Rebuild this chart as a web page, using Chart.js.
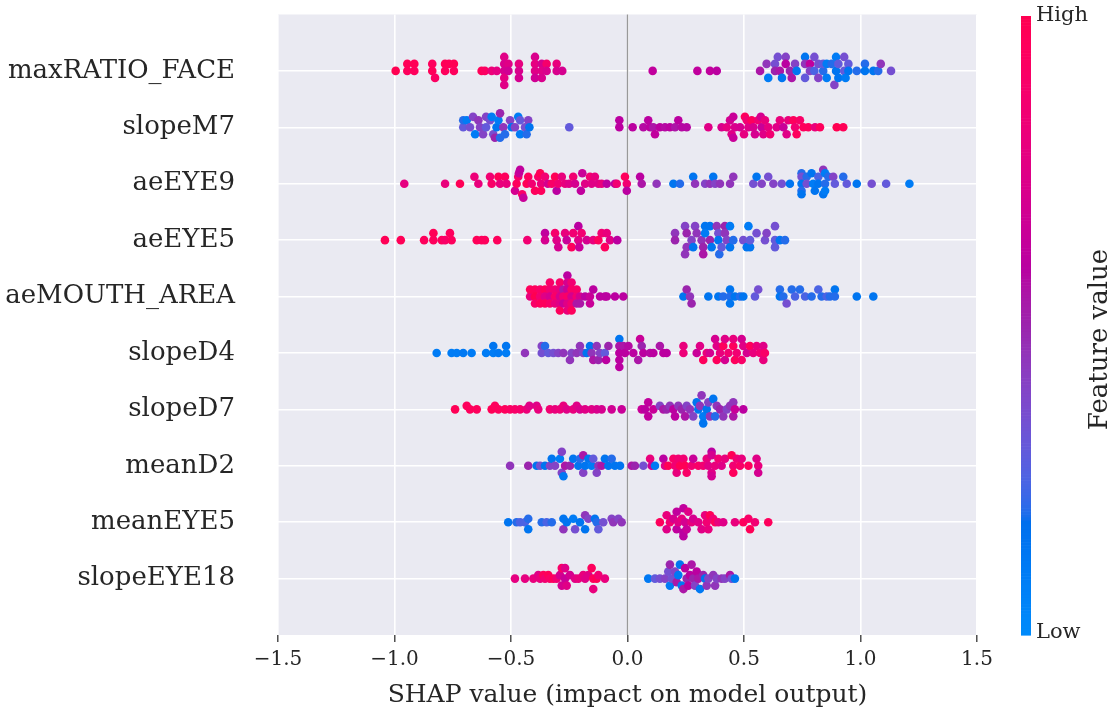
<!DOCTYPE html>
<html><head><meta charset="utf-8">
<script src="https://cdn.jsdelivr.net/npm/chart.js@4.4.1/dist/chart.umd.min.js"></script>
<style>html,body{margin:0;padding:0;background:#fff}canvas{display:block}</style>
</head><body>
<canvas id="c" width="1114" height="715"></canvas>
<script>
const features = ["maxRATIO_FACE","slopeM7","aeEYE9","aeEYE5","aeMOUTH_AREA","slopeD4","slopeD7","meanD2","meanEYE5","slopeEYE18"];
const xTicks = [-1.5,-1.0,-0.5,0.0,0.5,1.0,1.5];
const xTitle = "SHAP value (impact on model output)";
const cbarLabels = {high:"High", low:"Low", title:"Feature value"};

// each point: [SHAP value, beeswarm lane, feature value (0 = low, 1 = high)]
const maxRATIO_FACE = [
[-0.995,0,1],[-0.945,1,0.97],[-0.945,0,0.95],[-0.915,1,0.98],[-0.915,0,0.95],
[-0.838,1,0.95],[-0.838,0,0.97],[-0.826,-1,0.93],[-0.783,1,0.98],[-0.783,0,0.95],[-0.766,1,0.97],[-0.745,1,0.99],[-0.745,0,0.95],
[-0.626,0,0.97],[-0.612,0,0.93],[-0.583,0,0.82],[-0.561,0,0.78],
[-0.529,2,0.75],[-0.529,1,0.72],[-0.529,0,0.7],[-0.529,-1,0.78],[-0.529,-2,0.75],[-0.511,1,0.75],[-0.511,0,0.68],
[-0.466,1,0.78],[-0.466,0,0.72],[-0.466,-1,0.7],[-0.397,2,0.72],[-0.397,1,0.78],[-0.397,0,0.75],[-0.397,-1,0.68],
[-0.368,1,0.7],[-0.368,0,0.75],[-0.368,-1,0.72],[-0.347,1,0.88],[-0.347,0,0.72],[-0.304,1,0.8],[-0.304,0,0.72],[-0.28,0,0.7],
[0.108,0,0.62],[0.300,0,0.62],[0.354,0,0.62],[0.383,0,0.6],
[0.569,0,0.55],[0.597,1,0.45],[0.604,-1,0.1],[0.633,1,0.35],[0.633,0,0.5],[0.645,2,0.35],[0.654,0,0.55],[0.663,-1,0.15],
[0.679,2,0.4],[0.679,1,0.6],[0.697,0,0.5],[0.705,-1,0.55],[0.719,1,0.4],[0.726,0,0.15],[0.762,2,0.15],[0.762,1,0.45],[0.762,-1,0.3],
[0.783,1,0.62],[0.783,0,0.4],[0.802,2,0.35],[0.802,0,0.25],[0.819,1,0.35],[0.819,-1,0.4],[0.840,0,0.2],[0.840,1,0.3],
[0.855,1,0.1],[0.855,-1,0.1],[0.876,1,0.2],[0.895,2,0.1],[0.895,0,0.15],[0.888,-2,0.4],[0.905,-1,0.15],[0.905,1,0.3],
[0.930,2,0.35],[0.930,0,0.3],[0.936,-1,0.1],[0.948,1,0.3],[0.948,0,0.15],[0.984,0,0.2],[1.019,1,0.2],[1.019,0,0.15],
[1.055,0,0.15],[1.076,0,0.2],[1.087,1,0.45],[1.131,0,0.35]];

const slopeM7 = [
[-0.705,0,0.3],[-0.705,1,0.2],[-0.690,1,0.1],[-0.676,0,0.35],[-0.663,1.5,0.4],[-0.654,-1,0.1],
[-0.640,1,0.45],[-0.633,0,0.4],[-0.620,-1,0.4],[-0.607,1.5,0.4],[-0.607,0,0.3],
[-0.590,1,0.35],[-0.583,1.5,0.1],[-0.576,-1,0.35],[-0.569,-1.5,0.5],[-0.562,0,0.15],[-0.554,1,0.1],[-0.547,2,0.5],[-0.547,-1.5,0.2],
[-0.533,0,0.45],[-0.526,-1,0.2],[-0.504,1,0.4],[-0.497,0,0.15],[-0.483,0,0.4],[-0.469,1.5,0.1],[-0.461,1,0.3],[-0.461,-1,0.1],
[-0.440,0,0.35],[-0.433,-1,0.2],[-0.426,1,0.4],[-0.421,0,0.15],[-0.250,0,0.3],
[-0.035,1,0.6],[-0.035,0,0.6],[0.022,0,0.6],
[0.068,0,0.58],[0.089,1,0.6],[0.097,0,0.6],[0.111,0,0.55],[0.118,-1,0.62],[0.139,0,0.6],[0.161,0,0.58],[0.182,0,0.6],[0.204,0,0.55],[0.218,1,0.6],[0.233,0,0.58],[0.254,0,0.58],
[0.347,0,0.75],
[0.404,0,0.72],[0.426,0,0.78],[0.440,1,0.7],[0.447,-1,0.75],[0.454,1.5,0.65],[0.454,-1.5,0.65],[0.461,0,0.72],
[0.483,0,0.7],[0.500,-1,0.78],[0.504,1.5,0.95],[0.512,1,0.85],[0.519,0,0.75],
[0.533,1,0.95],[0.540,0,0.72],[0.547,-1,0.7],[0.561,1,0.85],[0.572,1.5,0.7],[0.576,0,0.65],[0.583,-1,0.75],[0.590,1,0.8],[0.604,0,0.78],[0.612,-1,0.85],
[0.640,0,0.75],[0.654,1,0.8],[0.669,0,0.65],[0.683,-1,0.75],[0.690,1,0.8],[0.712,1,0.95],[0.719,0,0.85],[0.726,-1,0.95],[0.740,1,0.9],[0.755,0,0.95],
[0.776,0,0.95],[0.805,0,0.8],[0.826,0,0.95],[0.898,0,1],[0.926,0,0.98]];

const aeEYE9 = [
[-0.958,0,0.78],[-0.783,0,0.8],[-0.719,0,0.98],[-0.657,1,0.82],[-0.640,0,0.8],
[-0.590,1,0.85],[-0.583,0,0.9],[-0.554,1,0.98],[-0.547,0,0.8],[-0.526,1,0.95],[-0.519,0,0.8],
[-0.483,-1,0.7],[-0.476,0,0.95],[-0.469,1,0.9],[-0.466,1.5,0.65],[-0.461,2,0.62],[-0.452,-1.5,0.9],[-0.447,-2,0.65],[-0.433,0,0.98],[-0.426,1,0.95],
[-0.411,0,0.85],[-0.397,-1,0.95],[-0.383,1,0.9],[-0.375,1.5,0.98],[-0.371,0,0.8],[-0.371,-1,0.95],[-0.354,1,0.85],[-0.342,0,0.7],
[-0.325,0,0.9],[-0.311,1,0.98],[-0.304,-1,0.6],[-0.297,0,0.85],[-0.282,1,0.8],[-0.268,0,0.8],[-0.251,0,0.75],[-0.233,1,0.85],[-0.225,0,0.7],
[-0.200,-1,0.62],[-0.194,1.5,0.65],[-0.182,0,0.75],[-0.161,1,0.85],[-0.154,0,0.75],[-0.140,1,0.8],[-0.125,0,0.75],[-0.111,0,0.8],
[-0.089,0,0.6],[-0.054,0,0.6],[-0.046,0,0.85],[-0.011,1,0.95],[-0.003,0,0.85],[-0.003,-1,0.6],
[0.054,1,0.6],[0.061,0,0.55],[0.125,0,0.45],[0.197,0,0.15],[0.225,0,0.2],
[0.282,1,0.15],[0.290,0,0.45],[0.333,0,0.4],[0.354,0,0.45],[0.368,1,0.15],[0.376,0,0.4],[0.397,0,0.45],[0.440,0,0.45],[0.454,1,0.45],
[0.540,0,0.35],[0.554,1,0.15],[0.576,0,0.4],[0.604,1,0.35],[0.626,0,0.4],[0.662,0,0.35],[0.697,0,0.15],
[0.747,1.5,0.2],[0.747,1,0.35],[0.747,0,0.15],[0.747,-1,0.2],[0.747,-1.5,0.15],[0.769,1,0.2],[0.769,0,0.35],[0.790,1.5,0.15],[0.797,0,0.1],[0.804,-1,0.15],
[0.819,1,0.25],[0.819,0,0.15],[0.840,2,0.45],[0.840,-1.5,0.15],[0.848,1.5,0.1],[0.848,0,0.2],[0.848,-1,0.1],[0.862,1,0.2],[0.883,1,0.4],[0.890,0,0.3],
[0.926,1,0.2],[0.941,0,0.3],[0.984,0,0.15],[1.048,0,0.35],[1.110,0,0.3],[1.210,0,0.1]];

const aeEYE5 = [
[-1.041,0,0.98],[-0.973,0,0.98],[-0.873,0,0.95],[-0.833,1,0.98],[-0.833,0,0.95],[-0.797,0,0.95],[-0.783,0,0.9],[-0.762,1,0.95],[-0.755,0,0.95],
[-0.647,0,0.97],[-0.626,0,0.95],[-0.612,0,0.95],[-0.559,0,0.95],[-0.430,0,0.85],
[-0.354,1,0.62],[-0.354,0,0.7],[-0.311,1,0.88],[-0.304,0,0.75],[-0.297,-1,0.7],[-0.268,1,0.8],[-0.261,0,0.65],[-0.240,-1,0.95],[-0.233,1,0.85],
[-0.211,2,0.6],[-0.211,0,0.75],[-0.207,-1,0.65],[-0.197,1,0.85],[-0.175,0,0.7],[-0.147,0,0.8],[-0.125,0,0.95],[-0.111,1,0.85],[-0.097,-1,0.95],
[-0.089,1,0.8],[-0.075,0,0.75],[-0.044,0,0.6],
[0.204,1,0.45],[0.204,0,0.5],[0.247,-2,0.45],[0.247,2,0.4],[0.254,1,0.5],[0.254,-1,0.45],[0.275,0,0.4],[0.282,-1,0.15],[0.290,2,0.4],[0.297,1,0.45],
[0.318,0,0.45],[0.325,-1,0.5],[0.325,-2,0.55],[0.333,2,0.15],[0.333,1,0.1],[0.354,2,0.15],[0.354,0,0.5],[0.361,-1,0.15],[0.383,2,0.45],[0.390,1,0.35],
[0.390,0,0.15],[0.394,-2,0.2],[0.404,-1,0.3],[0.418,2,0.5],[0.418,1,0.45],[0.426,0,0.4],[0.440,2,0.1],[0.440,-1,0.15],[0.454,0,0.2],[0.497,0,0.35],
[0.512,-1,0.15],[0.519,2,0.1],[0.526,-1,0.15],[0.526,0,0.3],[0.554,1,0.35],[0.590,0,0.35],[0.597,1,0.4],[0.633,2,0.35],[0.633,0,0.3],[0.633,-1,0.3],
[0.654,0,0.15],[0.676,0,0.2]];

const aeMOUTH_AREA = [
[-0.418,0,0.8],[-0.418,1,0.95],[-0.397,1,0.95],[-0.397,0,1],[-0.397,-1,0.9],[-0.375,1,0.9],[-0.375,0,0.85],[-0.375,-1,0.95],
[-0.354,1,0.95],[-0.354,0,0.75],[-0.354,-1,0.95],[-0.333,2,0.9],[-0.333,1,0.85],[-0.333,0,0.7],[-0.333,-1,0.9],
[-0.311,1,0.85],[-0.311,0,0.9],[-0.311,-1,0.8],[-0.290,2,0.9],[-0.290,1,0.8],[-0.290,0,0.7],[-0.290,-1,0.75],[-0.290,-2,0.95],
[-0.275,1,0.55],[-0.275,0,0.85],[-0.275,-1,0.65],[-0.258,3,0.6],[-0.258,2,0.7],[-0.258,1,0.65],[-0.258,0,0.9],[-0.258,-1,0.75],[-0.258,-2,0.8],
[-0.240,2,0.85],[-0.240,1,0.9],[-0.240,0,0.7],[-0.240,-1,0.85],[-0.240,-2,0.95],[-0.218,1,0.9],[-0.218,0,0.85],[-0.218,-1,0.55],
[-0.204,0,0.7],[-0.204,-1,0.55],[-0.182,0,0.6],[-0.161,0,0.65],[-0.161,-1,0.65],[-0.147,1,0.6],
[-0.118,0,0.6],[-0.097,0,0.6],[-0.089,0,0.6],[-0.054,0,0.6],[-0.018,0,0.6],
[0.240,0,0.15],[0.254,1,0.5],[0.268,0,0.45],[0.275,-1,0.5],
[0.347,0,0.15],[0.390,0,0.15],[0.411,0,0.2],[0.440,1,0.15],[0.440,0,0.2],[0.440,-1,0.15],[0.461,0,0.15],[0.483,0,0.2],[0.497,0,0.15],
[0.547,0,0.3],[0.561,1,0.35],
[0.654,1,0.2],[0.654,0,0.15],[0.669,0,0.2],[0.683,-1,0.35],[0.705,1,0.2],[0.719,0,0.25],[0.740,1,0.2],[0.762,0,0.25],[0.790,0,0.2],
[0.819,1,0.25],[0.833,0,0.2],[0.855,0,0.25],[0.869,0,0.2],[0.890,1,0.15],[0.890,0,0.2],[0.984,0,0.15],[1.055,0,0.15]];

const slopeD4 = [
[-0.819,0,0.1],[-0.755,0,0.1],[-0.733,0,0.1],[-0.705,0,0.12],[-0.669,0,0.1],
[-0.607,0,0.1],[-0.576,1,0.15],[-0.576,0,0.1],[-0.554,0,0.12],[-0.521,1,0.15],[-0.521,0,0.1],[-0.440,0,0.45],
[-0.368,1,0.4],[-0.368,0,0.35],[-0.354,1,0.2],[-0.340,0,0.3],[-0.318,0,0.35],[-0.297,0,0.4],[-0.275,0,0.45],[-0.247,-1,0.45],[-0.240,0,0.4],
[-0.218,0,0.45],[-0.204,1,0.45],[-0.190,0,0.4],[-0.175,0,0.15],[-0.161,1,0.15],[-0.154,0,0.45],[-0.147,-1,0.55],[-0.132,1,0.45],[-0.125,-1,0.5],
[-0.118,0,0.4],[-0.097,0,0.3],[-0.092,-1,0.6],[-0.082,1,0.5],
[-0.035,2,0.15],[-0.035,1,0.55],[-0.035,0,0.6],[-0.035,-1,0.6],[-0.035,-2,0.6],
[-0.018,1,0.55],[-0.011,0,0.6],[0.004,1,0.58],[0.025,0,0.6],[0.046,-1,0.55],[0.054,2,0.65],[0.061,1,0.5],[0.068,0,0.6],[0.097,0,0.58],[0.111,0,0.6],
[0.139,1,0.55],[0.154,0,0.6],[0.168,0,0.6],
[0.240,1,0.8],[0.240,0,0.82],
[0.297,0,0.65],[0.311,1,0.75],[0.325,-1,0.95],[0.340,0,0.8],[0.354,0,0.7],[0.376,2,0.7],[0.383,1,0.75],[0.383,-1,0.95],[0.397,0,0.8],[0.411,1,0.95],
[0.418,2,0.75],[0.418,-1,0.7],[0.433,0,0.85],[0.454,1,0.95],[0.454,2,0.8],[0.461,-1,0.95],[0.469,0,0.85],[0.490,2,0.7],[0.490,-1,0.9],[0.497,1,0.75],
[0.512,0,0.7],[0.526,1,0.95],[0.540,0,0.8],[0.554,1,0.8],[0.569,0,0.85],[0.583,1,0.75],[0.583,-1,0.8],[0.590,0,0.9]];

const slopeD7 = [
[-0.740,0,0.98],[-0.690,0.5,0.95],[-0.676,0,0.95],[-0.647,0,0.95],
[-0.583,0,0.98],[-0.569,0.5,0.95],[-0.554,0,0.95],[-0.526,0,0.95],[-0.504,0,0.92],[-0.483,0,0.9],[-0.461,0,0.88],[-0.433,0,0.82],[-0.421,0.5,0.75],[-0.390,0.5,0.75],[-0.383,0,0.8],
[-0.333,0,0.85],[-0.311,0,0.8],[-0.290,0,0.82],[-0.275,0.5,0.8],[-0.261,0,0.75],[-0.233,0,0.8],[-0.218,0.5,0.75],[-0.204,0,0.72],[-0.182,0,0.75],[-0.154,0,0.75],[-0.132,0,0.72],[-0.111,0,0.7],
[-0.068,0,0.68],[-0.025,0,0.65],
[0.061,0,0.65],[0.075,0,0.6],[0.089,1,0.62],[0.089,-1,0.62],[0.111,0,0.65],[0.139,0.5,0.4],[0.154,0,0.55],[0.168,0,0.5],[0.182,0.5,0.45],[0.197,0,0.6],[0.204,-1,0.6],
[0.218,0.5,0.45],[0.233,0,0.5],[0.247,-1,0.55],[0.254,0.5,0.4],[0.268,0,0.45],[0.282,-1,0.4],[0.297,1,0.15],[0.304,0,0.15],[0.311,0.5,0.45],[0.318,2,0.45],
[0.325,-1,0.1],[0.325,-2,0.15],[0.340,0,0.15],[0.347,1,0.4],[0.354,-1,0.45],[0.368,1.5,0.15],[0.376,-1,0.2],[0.383,0.5,0.45],[0.397,0,0.5],[0.411,-1,0.45],
[0.426,0,0.4],[0.440,0.5,0.45],[0.454,1,0.45],[0.454,-1,0.55],[0.461,0,0.65],[0.497,0,0.6]];

const meanD2 = [
[-0.504,0,0.45],
[-0.426,0,0.5],[-0.390,0,0.15],[-0.375,0,0.35],[-0.354,0,0.15],[-0.333,0,0.4],[-0.325,1,0.15],[-0.311,0,0.4],[-0.290,1,0.1],[-0.282,2,0.4],[-0.282,-1,0.4],
[-0.275,-1.5,0.12],[-0.268,0,0.55],[-0.247,0,0.5],[-0.233,1,0.15],[-0.211,0,0.15],[-0.204,1,0.2],[-0.190,1.5,0.55],[-0.190,-1,0.4],[-0.182,0,0.15],
[-0.168,1,0.15],[-0.154,0,0.1],[-0.147,1,0.3],[-0.132,-1,0.4],[-0.125,0,0.45],[-0.111,0,0.55],[-0.097,1,0.15],[-0.082,0,0.15],[-0.068,1,0.2],[-0.054,0,0.15],[-0.032,0,0.15],
[0.018,0,0.55],[0.032,0,0.5],[0.068,0,0.35],[0.097,1,0.8],[0.104,0,0.65],[0.118,0,0.12],[0.154,1,0.6],[0.161,0,0.75],[0.175,0,0.98],[0.197,1,0.9],
[0.204,0,0.85],[0.211,-1,0.8],[0.218,1,0.85],[0.225,0,0.98],[0.240,1,0.85],[0.247,0,0.98],[0.254,-1,0.9],[0.275,0,0.85],[0.282,1,0.65],[0.304,0,0.9],
[0.325,0,0.85],[0.340,1,0.8],[0.347,0,0.75],[0.361,2,0.6],[0.361,1.5,0.7],[0.361,-1,0.75],[0.361,-1.5,0.7],[0.376,0,0.8],[0.390,1,0.85],[0.404,0,0.75],
[0.418,1,0.8],[0.447,1.5,0.98],[0.454,0,0.85],[0.454,-1,0.95],[0.469,1,0.85],[0.483,0,0.9],[0.490,1,0.8],[0.519,0,0.95],[0.554,1,0.75],[0.561,0,0.8],[0.561,-1,0.7]];

const meanEYE5 = [
[-0.512,0,0.15],[-0.476,0,0.2],[-0.461,0,0.25],[-0.440,0,0.25],[-0.426,0.5,0.2],[-0.426,-1,0.15],[-0.368,0,0.2],[-0.347,0,0.25],[-0.325,0,0.2],
[-0.275,0.5,0.15],[-0.275,-1,0.45],[-0.261,0,0.15],[-0.233,0.5,0.1],[-0.225,-1,0.35],[-0.204,0,0.15],[-0.182,1,0.45],[-0.182,-1,0.15],[-0.168,0.5,0.4],
[-0.140,0.5,0.15],[-0.132,0,0.2],[-0.125,-1,0.3],[-0.104,0,0.35],[-0.068,0.5,0.4],[-0.061,0,0.45],[-0.039,0.5,0.4],[-0.025,0,0.45],
[0.139,0,0.95],[0.168,1,0.8],[0.168,-1,0.75],[0.182,0,0.85],[0.197,0.5,0.7],[0.211,1.5,0.62],[0.211,-1,0.62],[0.218,0,0.75],[0.233,0.5,0.8],
[0.240,2,0.62],[0.240,-1.5,0.6],[0.240,-2,0.6],[0.247,0,0.7],[0.254,-1,0.65],[0.261,1.5,0.75],[0.275,0,0.8],[0.282,0.5,0.7],[0.304,0,0.75],
[0.318,-1,0.75],[0.333,1,0.8],[0.340,0,0.85],[0.347,-1,0.8],[0.354,1,0.98],[0.368,0.5,0.85],[0.376,0,0.95],[0.390,0,0.8],[0.411,0,0.75],
[0.461,0,0.8],[0.497,0,0.95],[0.519,0.5,0.9],[0.526,-1,0.98],[0.547,0,0.85],[0.604,0,0.95]];

const slopeEYE18 = [
[-0.483,0,0.78],[-0.440,0,0.78],[-0.404,0,0.8],[-0.383,0.5,0.75],[-0.375,0,0.8],[-0.361,0.5,0.95],[-0.354,0,0.85],[-0.340,0.5,0.97],[-0.333,0,0.9],
[-0.318,0,0.95],[-0.304,0,0.85],[-0.290,0.5,0.7],[-0.282,1.5,0.9],[-0.282,-1,0.7],[-0.268,1.5,0.75],[-0.268,0,0.65],[-0.261,-1,0.75],[-0.247,0.5,0.7],
[-0.225,0,0.75],[-0.211,0,0.8],[-0.190,0.5,0.8],[-0.182,0,0.75],[-0.168,0.5,0.75],[-0.154,1.5,0.95],[-0.147,0,0.95],[-0.147,-1.5,0.8],[-0.132,0,0.98],
[-0.125,0.5,0.85],[-0.097,0,0.8],
[0.089,0,0.12],[0.118,0,0.3],[0.139,0,0.35],[0.161,0,0.4],[0.175,1,0.35],[0.182,-1,0.1],[0.182,2,0.5],[0.190,0,0.35],[0.204,1,0.4],[0.211,-0.5,0.55],
[0.218,0.5,0.12],[0.225,2,0.15],[0.233,-1,0.12],[0.240,-1.5,0.55],[0.247,1.5,0.6],[0.254,0,0.5],[0.261,-1,0.6],[0.268,0.5,0.6],[0.275,2,0.55],
[0.282,0,0.5],[0.290,-1,0.4],[0.297,1,0.6],[0.304,0,0.55],[0.311,-1.5,0.12],[0.325,0.5,0.5],[0.333,0,0.15],[0.340,-1,0.45],[0.347,0,0.4],
[0.368,0.5,0.45],[0.376,-1,0.45],[0.383,0,0.4],[0.404,0,0.45],[0.418,0,0.4],[0.440,0.5,0.55],[0.447,0,0.35],[0.461,0,0.15]];

const rows = [maxRATIO_FACE, slopeM7, aeEYE9, aeEYE5, aeMOUTH_AREA, slopeD4, slopeD7, meanD2, meanEYE5, slopeEYE18];

// ---- styling ----
const LANE = 0.124;
const SERIF = '"DejaVu Serif", serif';
const TEXT = '#262626';
const AREA_TOP = 14.5;

// SHAP red_blue colormap (LCH interpolation)
function shapColor(t) {
  t = Math.max(0, Math.min(1, t));
  const L = t < 0.5 ? 54 + (40 - 54) * (t / 0.5) : 40 + (54 - 40) * ((t - 0.5) / 0.5);
  const C = 70 + (90 - 70) * t;
  const H = 4.6588 + (0.35470565 + 2 * Math.PI - 4.6588) * t;
  const a = C * Math.cos(H), b = C * Math.sin(H);
  const fy = (L + 16) / 116, fx = fy + a / 500, fz = fy - b / 200;
  const finv = v => v > 0.2068966 ? v * v * v : (v - 16 / 116) / 7.787;
  const X = 0.95047 * finv(fx), Y = finv(fy), Z = 1.08883 * finv(fz);
  let r = 3.2406 * X - 1.5372 * Y - 0.4986 * Z;
  let g = -0.9689 * X + 1.8758 * Y + 0.0415 * Z;
  let bl = 0.0557 * X - 0.2040 * Y + 1.0570 * Z;
  const gam = v => { v = v > 0.0031308 ? 1.055 * Math.pow(v, 1 / 2.4) - 0.055 : 12.92 * v; return Math.round(255 * Math.max(0, Math.min(1, v))); };
  return `rgb(${gam(r)},${gam(g)},${gam(bl)})`;
}

const datasets = rows.map((pts, i) => ({
  label: features[i],
  data: pts.map(p => ({ x: p[0], y: (features.length - 1 - i) + p[1] * LANE })),
  pointBackgroundColor: pts.map(p => shapColor(p[2])),
  pointBorderWidth: 0,
  pointRadius: 4.3,
  pointHoverRadius: 4.3
}));

const decor = {
  id: 'decor',
  beforeDraw(chart) {
    const { ctx, chartArea: a } = chart;
    ctx.save();
    ctx.fillStyle = '#EAEAF2';
    ctx.fillRect(a.left, a.top, a.right - a.left, a.bottom - a.top);
    ctx.restore();
  },
  beforeDatasetsDraw(chart) {
    const { ctx, chartArea: a, scales: { x } } = chart;
    const px = x.getPixelForValue(0);
    ctx.save();
    ctx.strokeStyle = '#999999';
    ctx.lineWidth = 1.3;
    ctx.beginPath(); ctx.moveTo(px, a.top); ctx.lineTo(px, a.bottom); ctx.stroke();
    ctx.restore();
  },
  afterDraw(chart) {
    const { ctx, chartArea: a } = chart;
    const cx = 1021, cw = 10, top = a.top + 1.5, bot = a.bottom;
    ctx.save();
    const n = 200;
    const h = (bot - top) / n;
    for (let k = 0; k < n; k++) {
      ctx.fillStyle = shapColor(1 - (k + 0.5) / n);
      ctx.fillRect(cx, top + k * h, cw, h + 0.6);
    }
    ctx.fillStyle = TEXT;
    ctx.font = '21px ' + SERIF;
    ctx.textAlign = 'left';
    ctx.textBaseline = 'middle';
    ctx.fillText(cbarLabels.high, cx + cw + 5, top);
    ctx.fillText(cbarLabels.low, cx + cw + 5, bot - 2);
    ctx.font = '26px ' + SERIF;
    ctx.translate(1100, (top + bot) / 2 + 14);
    ctx.rotate(-Math.PI / 2);
    ctx.textAlign = 'center';
    ctx.fillText(cbarLabels.title, 0, 0);
    ctx.restore();
  }
};

new Chart(document.getElementById('c'), {
  type: 'scatter',
  data: { datasets },
  plugins: [decor],
  options: {
    responsive: false,
    animation: false,
    layout: { padding: { top: AREA_TOP, right: 137, left: 0, bottom: 0 } },
    plugins: { legend: { display: false }, tooltip: { enabled: false } },
    scales: {
      x: {
        type: 'linear', min: -1.5, max: 1.5,
        afterBuildTicks: s => { s.ticks = xTicks.map(v => ({ value: v })); },
        afterFit: s => { s.height = 80; },
        border: { display: false },
        grid: { color: '#ffffff', lineWidth: 1.6, tickColor: '#333333', tickLength: 7, tickWidth: 1.3, drawTicks: true },
        ticks: {
          color: TEXT, padding: 6,
          font: { family: SERIF, size: 20 },
          callback: v => v.toFixed(1).replace('-', '\u2212')
        },
        title: { display: true, text: xTitle, color: TEXT, font: { family: SERIF, size: 25 }, padding: { top: 0, bottom: 5 } }
      },
      y: {
        type: 'linear', min: -1, max: 10,
        afterBuildTicks: s => { s.ticks = features.map((f, i) => ({ value: i })); },
        afterFit: s => { s.width = 278; },
        border: { display: false },
        grid: { color: '#ffffff', lineWidth: 1.6, drawTicks: true, tickLength: 43, tickColor: 'rgba(0,0,0,0)' },
        ticks: {
          color: TEXT, padding: 0,
          font: { family: SERIF, size: 26, lineHeight: 1.0 },
          callback: v => features[features.length - 1 - v]
        }
      }
    }
  }
});
</script>
</body></html>
